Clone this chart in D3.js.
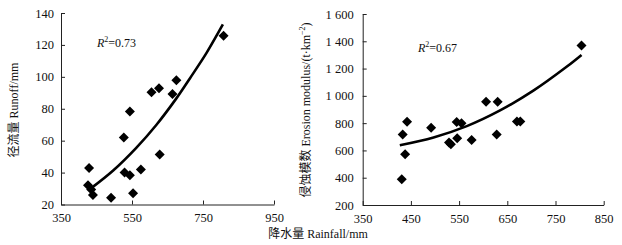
<!DOCTYPE html>
<html>
<head>
<meta charset="utf-8">
<script src="https://cdn.jsdelivr.net/npm/d3@7"></script>
<style>
  body { margin: 0; background: #fff; }
  svg text { font-family: "Liberation Serif", "Noto Sans CJK SC", serif; fill: #111; }
  .axis path, .axis line { stroke: #222; }
  .axis text { font-size: 12.5px; }
</style>
</head>
<body>
<svg id="chart"></svg>
<script>
// rainfall vs runoff (left panel)
const runoffRain = [429, 426, 435, 440, 491, 527, 529, 544, 544, 553, 575, 605, 626, 628, 664, 675, 808];
const runoffVals = [42.8, 32.1, 29.4, 26, 24.2, 62, 40, 78.3, 38.4, 27.1, 42, 90.3, 92.9, 51.3, 89.2, 97.8, 125.8];
// trend line
const runoffTrendX = [436, 497, 562, 619, 675, 713, 760, 806];
const runoffTrendY = [30.4, 41.3, 55.5, 70, 86.5, 99, 115, 132.8];

// rainfall vs erosion modulus (right panel)
const erosionRain = [431, 433, 438, 442, 492, 529, 533, 545, 546, 555, 576, 606, 630, 628, 670, 677, 804];
const erosionVals = [388, 716, 572, 810, 767, 658, 645, 808, 689, 800, 676, 957, 957, 716, 812, 812, 1370];
const erosionTrendX = [427, 497, 566, 635, 704, 773, 804];
const erosionTrendY = [638, 695, 778, 893, 1038, 1213, 1300];

const leftXTicks = [350, 550, 750, 950];
const leftYTicks = [20, 40, 60, 80, 100, 120, 140];
const rightXTicks = [350, 450, 550, 650, 750, 850];
const rightYTicks = [200, 400, 600, 800, 1000, 1200, 1400, 1600];

const svg = d3.select('#chart')
    .attr('width', 622)
    .attr('height', 245);

function drawPanel(cfg) {
    const x = d3.scaleLinear().domain(cfg.xDomain).range(cfg.xRange);
    const y = d3.scaleLinear().domain(cfg.yDomain).range(cfg.yRange);

    const g = svg.append('g');

    // x axis, ticks point inward
    g.append('g')
        .attr('class', 'axis')
        .attr('transform', `translate(0,${cfg.yRange[0]})`)
        .call(d3.axisBottom(x).tickValues(cfg.xTicks).tickSizeInner(-4).tickSizeOuter(0).tickPadding(9))
        .call(a => a.selectAll('text').attr('dy', '0.71em'));

    g.append('g')
        .attr('class', 'axis')
        .attr('transform', `translate(${cfg.xRange[0]},0)`)
        .call(d3.axisLeft(y).tickValues(cfg.yTicks).tickSizeInner(-4).tickSizeOuter(0)
            .tickPadding(cfg.yPad).tickFormat(cfg.yFormat));

    const line = d3.line()
        .x(d => x(d[0]))
        .y(d => y(d[1]))
        .curve(d3.curveCatmullRom);

    g.append('path')
        .datum(cfg.trendX.map((v, i) => [v, cfg.trendY[i]]))
        .attr('d', line)
        .attr('fill', 'none')
        .attr('stroke', '#000')
        .attr('stroke-width', 2.6);

    g.selectAll('.pt')
        .data(cfg.xs.map((v, i) => [v, cfg.ys[i]]))
        .join('path')
        .attr('class', 'pt')
        .attr('d', d3.symbol(d3.symbolSquare, 50))
        .attr('transform', d => `translate(${x(d[0])},${y(d[1])}) rotate(45)`)
        .attr('fill', '#000');

    // R² label
    const r2 = g.append('text')
        .attr('x', cfg.r2Pos[0])
        .attr('y', cfg.r2Pos[1])
        .style('font-size', '12px');
    r2.append('tspan').style('font-style', 'italic').text('R');
    r2.append('tspan').attr('dy', -5).style('font-size', '8px').text('2');
    r2.append('tspan').attr('dy', 5).text('=' + cfg.r2);

    g.append('text')
        .attr('transform', `translate(${cfg.yTitlePos[0]},${cfg.yTitlePos[1]}) rotate(-90)`)
        .attr('text-anchor', 'middle')
        .style('font-size', '12px')
        .call(cfg.yTitle);
}

drawPanel({
    xDomain: [350, 950], xRange: [61, 274],
    yDomain: [20, 140], yRange: [204.5, 13],
    xTicks: leftXTicks, yTicks: leftYTicks, yPad: 7,
    yFormat: d3.format('d'),
    xs: runoffRain, ys: runoffVals,
    trendX: runoffTrendX, trendY: runoffTrendY,
    r2: '0.73', r2Pos: [97, 47],
    yTitlePos: [18, 110],
    yTitle: t => t.text('径流量 Runoff/mm')
});

drawPanel({
    xDomain: [350, 850], xRange: [362.7, 603.7],
    yDomain: [200, 1600], yRange: [205, 14],
    xTicks: rightXTicks, yTicks: rightYTicks, yPad: 9,
    yFormat: d => d >= 1000 ? Math.floor(d / 1000) + ' ' + d3.format('03d')(d % 1000) : d,
    xs: erosionRain, ys: erosionVals,
    trendX: erosionTrendX, trendY: erosionTrendY,
    r2: '0.67', r2Pos: [418, 52],
    yTitlePos: [310, 110],
    yTitle: t => {
        t.append('tspan').text('侵蚀模数 Erosion modulus/(t·km');
        t.append('tspan').attr('dy', -5).style('font-size', '8px').text('−2');
        t.append('tspan').attr('dy', 5).text(')');
    }
});

svg.append('text')
    .attr('x', 318)
    .attr('y', 238)
    .attr('text-anchor', 'middle')
    .style('font-size', '12px')
    .text('降水量 Rainfall/mm');
</script>
</body>
</html>
